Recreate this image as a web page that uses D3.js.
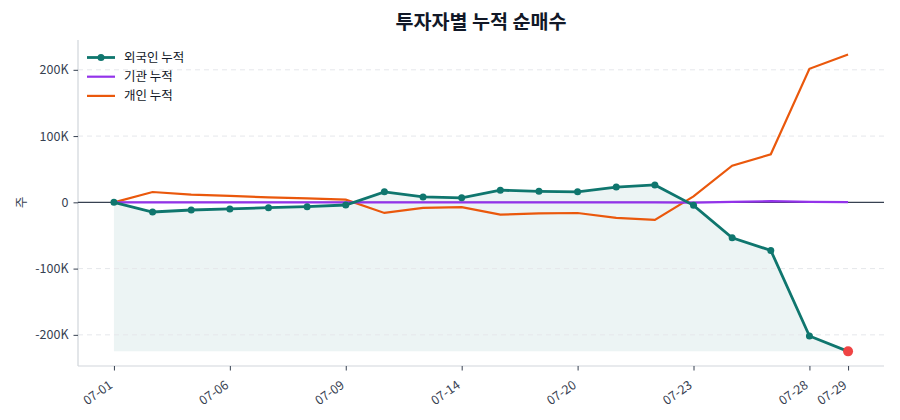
<!DOCTYPE html>
<html>
<head>
<meta charset="utf-8">
<script src="https://cdn.jsdelivr.net/npm/d3@7"></script>
<style>
  body { margin: 0; background: #fff; }
  text { font-family: "Noto Sans CJK KR", "Noto Sans", sans-serif; }
</style>
</head>
<body>
<svg id="chart" width="900" height="420"></svg>
<script>
// dates (trading days) and cumulative net buying per investor type
var dates = ["07-01", "07-02", "07-03", "07-06", "07-07", "07-08", "07-09", "07-10", "07-13", "07-14",
             "07-15", "07-16", "07-20", "07-21", "07-22", "07-23", "07-24", "07-27", "07-28", "07-29"];
var tickDates = ["07-01", "07-06", "07-09", "07-14", "07-20", "07-23", "07-28", "07-29"];
var foreignCum = [0, -14600, -11600, -10000, -8000, -6500, -4000, 15800, 8100, 6800,
                  18300, 16600, 15800, 23000, 26200, -4500, -53400, -72500, -201700, -224900];
var instCum = [0, 0, 0, 0, 0, 0, 0, 0, 0, 0,
               0, 0, 0, 0, 0, -300, 600, 1800, 800, 400];
var indivCum = [0, 15600, 11600, 9700, 7600, 6000, 4000, -16000, -8300, -7200,
                -18500, -16600, -16100, -23500, -26600, 9000, 55400, 72500, 201500, 223000];
var yTicks = [-200000, -100000, 0, 100000, 200000];

var svg = d3.select("#chart"),
    margin = {top: 40, right: 16, bottom: 54, left: 78},
    width = +svg.attr("width") - margin.left - margin.right,
    height = +svg.attr("height") - margin.top - margin.bottom;

var xScale = d3.scalePoint().domain(dates).range([0, width]).padding(0.93),
    yScale = d3.scaleLinear().domain([-247000, 245000]).range([height, 0]);

svg.append("text")
    .attr("x", 481)
    .attr("y", 29)
    .attr("text-anchor", "middle")
    .attr("font-size", "19.6px")
    .attr("font-weight", "bold")
    .attr("fill", "#111827")
    .text("투자자별 누적 순매수");

var g = svg.append("g")
    .attr("transform", "translate(" + margin.left + "," + margin.top + ")");

// fill under foreign line down to its minimum
var minF = d3.min(foreignCum);
g.append("path")
    .datum(foreignCum)
    .attr("fill", "#0f766e")
    .attr("fill-opacity", 0.08)
    .attr("d", d3.area()
        .x(function (d, i) { return xScale(dates[i]); })
        .y0(yScale(minF))
        .y1(function (d) { return yScale(d); }));

// grid
g.selectAll(".grid")
    .data(yTicks.filter(function (d) { return d != 0; }))
    .enter().append("line")
    .attr("x1", 0).attr("x2", width)
    .attr("y1", function (d) { return yScale(d); })
    .attr("y2", function (d) { return yScale(d); })
    .attr("stroke", "#e5e7eb")
    .attr("stroke-dasharray", "5,4");

// axes
var yAxis = g.append("g")
    .call(d3.axisLeft(yScale).tickValues(yTicks).tickSize(4.5).tickPadding(5)
        .tickFormat(function (d) { return d == 0 ? "0" : (d / 1000) + "K"; }));
var xAxis = g.append("g")
    .attr("transform", "translate(0," + height + ")")
    .call(d3.axisBottom(xScale).tickValues(tickDates).tickSize(4.5));
[yAxis, xAxis].forEach(function (ax) {
    ax.select(".domain").attr("stroke", "#d1d5db").attr("stroke-width", 1.2);
    ax.selectAll(".tick line").attr("stroke", "#374151");
    ax.selectAll("text").attr("fill", "#374151").attr("font-size", "12.5px")
        .attr("font-family", "'Noto Sans CJK KR', 'Noto Sans', sans-serif");
});
yAxis.select(".domain").attr("d", "M0," + height + "V0");
xAxis.select(".domain").attr("d", "M0,0H" + width);
xAxis.selectAll(".tick text")
    .attr("x", 0)
    .attr("y", 0)
    .attr("dy", 0)
    .attr("text-anchor", "end")
    .attr("transform", "translate(-1,21) rotate(-35)");

svg.append("text")
    .attr("transform", "translate(25.5," + (margin.top + yScale(0)) + ") rotate(-90)")
    .attr("text-anchor", "middle")
    .attr("font-size", "12.5px")
    .attr("fill", "#374151")
    .text("주");

// zero line
g.append("line")
    .attr("x1", 0).attr("x2", width)
    .attr("y1", yScale(0)).attr("y2", yScale(0))
    .attr("stroke", "#374151")
    .attr("stroke-width", 1.2);

var line = d3.line()
    .x(function (d, i) { return xScale(dates[i]); })
    .y(function (d) { return yScale(d); });

g.append("path").datum(indivCum)
    .attr("fill", "none").attr("stroke", "#ea580c").attr("stroke-width", 2.2)
    .attr("d", line);
g.append("path").datum(instCum)
    .attr("fill", "none").attr("stroke", "#9333ea").attr("stroke-width", 2.2)
    .attr("d", line);
g.append("path").datum(foreignCum)
    .attr("fill", "none").attr("stroke", "#0f766e").attr("stroke-width", 2.8)
    .attr("d", line);
g.selectAll(".dot")
    .data(foreignCum)
    .enter().append("circle")
    .attr("class", "dot")
    .attr("cx", function (d, i) { return xScale(dates[i]); })
    .attr("cy", function (d) { return yScale(d); })
    .attr("r", 3.5)
    .attr("fill", "#0f766e");
var last = foreignCum.length - 1;
g.append("circle")
    .attr("cx", xScale(dates[last]))
    .attr("cy", yScale(foreignCum[last]))
    .attr("r", 5)
    .attr("fill", "#ef4444");

// legend
var legendItems = [
    {label: "외국인 누적", color: "#0f766e", marker: true},
    {label: "기관 누적", color: "#9333ea", marker: false},
    {label: "개인 누적", color: "#ea580c", marker: false}
];
var lg = svg.append("g").attr("transform", "translate(87,57.5)");
legendItems.forEach(function (item, i) {
    var row = lg.append("g").attr("transform", "translate(0," + (i * 19.2) + ")");
    row.append("line")
        .attr("x1", 0).attr("x2", 28)
        .attr("stroke", item.color)
        .attr("stroke-width", item.marker ? 2.8 : 2.2);
    if (item.marker) {
        row.append("circle").attr("cx", 14).attr("r", 3.5).attr("fill", item.color);
    }
    row.append("text")
        .attr("x", 37)
        .attr("y", 4.5)
        .attr("font-size", "12.5px")
        .attr("fill", "#111827")
        .text(item.label);
});
</script>
</body>
</html>
